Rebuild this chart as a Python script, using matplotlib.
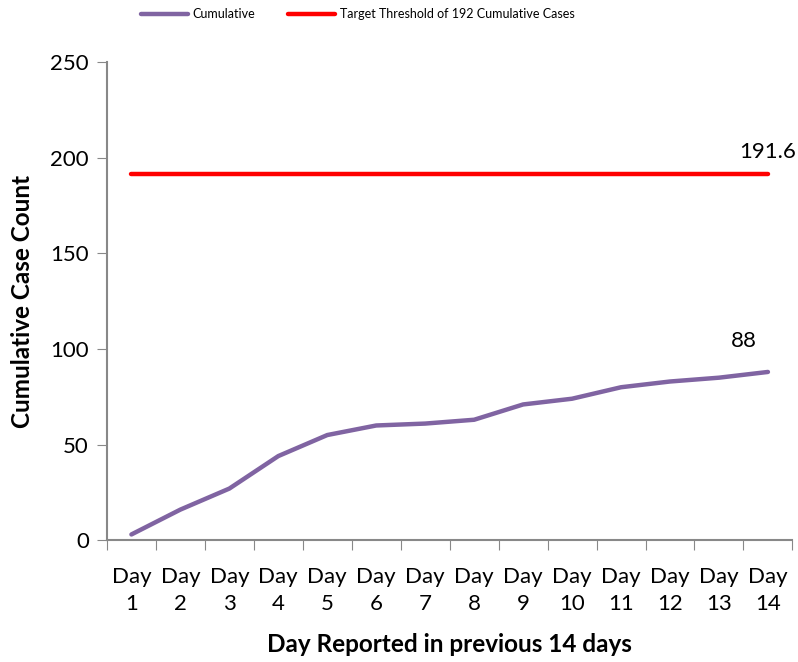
import matplotlib
matplotlib.use("Agg")
import matplotlib.pyplot as plt

plt.rcParams['font.family'] = ['Lato', 'DejaVu Sans']

days = list(range(1, 15))
day_labels = ["Day\n%d" % d for d in days]
cumulative = [3, 16, 27, 44, 55, 60, 61, 63, 71, 74, 80, 83, 85, 88]
threshold = [191.6] * 14

fig = plt.figure(figsize=(7.98, 6.62), dpi=100)
ax = fig.add_axes([0.134, 0.184, 0.859, 0.722])

ax.plot(days, cumulative, color='#8064a2', lw=3.2, solid_capstyle='round', label='Cumulative')
ax.plot(days, threshold, color='#ff0000', lw=3.2, solid_capstyle='round',
        label='Target Threshold of 192 Cumulative Cases')

ax.text(days[-1], threshold[-1] + 8.5, "191.6", ha='center', va='baseline', fontsize=16)
ax.text(days[-1] - 0.5, cumulative[-1] + 13, "88", ha='center', va='baseline', fontsize=16)

ax.set_xlim(0.5, 14.5)
ax.set_ylim(0, 250)
ax.set_yticks([0, 50, 100, 150, 200, 250])
ax.set_xticks([d + 0.5 for d in range(0, 15)])
ax.set_xticklabels([])
ax.set_xticks(days, minor=True)
ax.set_xticklabels(day_labels, minor=True, fontsize=16, linespacing=1.45)
ax.tick_params(axis='x', which='minor', length=0, pad=19)
ax.tick_params(axis='x', which='major', length=7, color='#888888')
ax.tick_params(axis='y', length=7, color='#888888', labelsize=16, pad=6)

for s in ['top', 'right']:
    ax.spines[s].set_visible(False)
for s in ['left', 'bottom']:
    ax.spines[s].set_color('#888888')
    ax.spines[s].set_linewidth(1.5)

ax.set_ylabel("Cumulative Case Count", fontsize=17.5, fontweight='bold', labelpad=12)
ax.set_xlabel("Day Reported in previous 14 days", fontsize=17.5, fontweight='bold', labelpad=14)

fig.legend(loc='upper center', bbox_to_anchor=(0.448, 1.005), ncol=2, frameon=False,
           fontsize=9, handlelength=3.8, handletextpad=0.35, columnspacing=2.6)

fig.savefig("out.png", dpi=100)
